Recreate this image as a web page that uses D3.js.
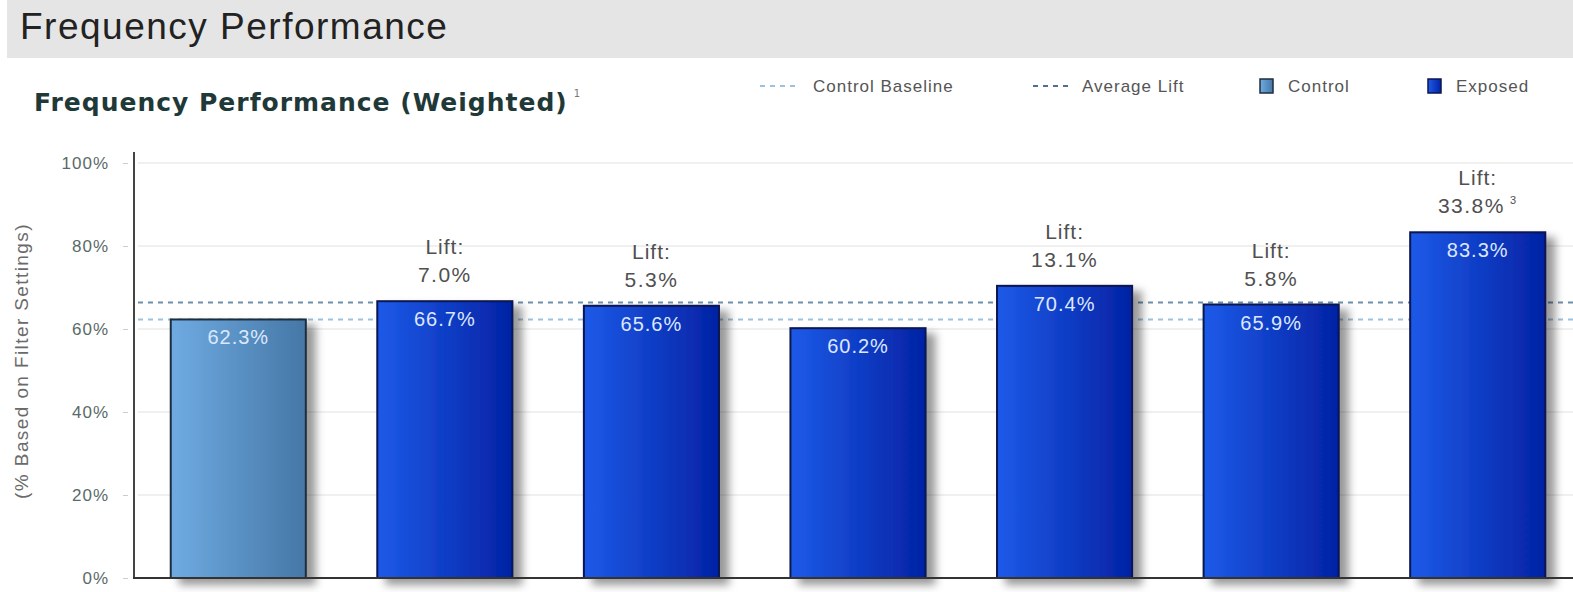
<!DOCTYPE html>
<html lang="en">
<head>
  <meta charset="UTF-8">
  <script src="https://cdn.jsdelivr.net/npm/d3@7"></script>
  <title>Frequency Performance</title>
  <style>
    body { margin: 0; background: #fff; }
    svg { display: block; font-family: "Liberation Sans", Arial, sans-serif; }
  </style>
</head>
<body>
  <svg width="1573" height="592" id="chart"></svg>
  <script>
    // data
    let groups = ["Control", "Exposed 1", "Exposed 2", "Exposed 3", "Exposed 4", "Exposed 5", "Exposed 6"];
    let kinds = ["Control", "Exposed", "Exposed", "Exposed", "Exposed", "Exposed", "Exposed"];
    let values = [62.3, 66.7, 65.6, 60.2, 70.4, 65.9, 83.3];
    let lifts = ["", "7.0%", "5.3%", "", "13.1%", "5.8%", "33.8%"];
    let liftNotes = ["", "", "", "", "", "", "3"];
    let yTicks = [0, 20, 40, 60, 80, 100];
    let controlBaseline = 62.3;
    let averageLift = 66.4;

    let svg = d3.select("#chart");
    let defs = svg.append("defs");

    // gradients for the bars
    let gradControl = defs.append("linearGradient").attr("id", "gControl");
    gradControl.append("stop").attr("offset", "0%").attr("stop-color", "#6fabe2");
    gradControl.append("stop").attr("offset", "100%").attr("stop-color", "#4577a6");
    let gradExposed = defs.append("linearGradient").attr("id", "gExposed");
    gradExposed.append("stop").attr("offset", "0%").attr("stop-color", "#1d5ae8");
    gradExposed.append("stop").attr("offset", "100%").attr("stop-color", "#0322a4");

    let shadow = defs.append("filter").attr("id", "shadow")
      .attr("x", "-10%").attr("y", "-10%").attr("width", "140%").attr("height", "130%");
    shadow.append("feDropShadow")
      .attr("dx", 9).attr("dy", 6).attr("stdDeviation", 4)
      .attr("flood-color", "#000").attr("flood-opacity", 0.4);

    // header band
    svg.append("rect").attr("x", 7).attr("y", 0).attr("width", 1566).attr("height", 58).attr("fill", "#e5e5e5");
    svg.append("text").text("Frequency Performance")
      .attr("x", 20).attr("y", 39)
      .style("font-size", "37px").style("letter-spacing", "1.5px").attr("fill", "#222");

    // sub title
    let sub = svg.append("text").attr("x", 34).attr("y", 111)
      .style("font-family", "'DejaVu Sans', sans-serif")
      .style("font-size", "25px").style("font-weight", "bold").style("letter-spacing", "1px")
      .attr("fill", "#1f3838");
    sub.append("tspan").text("Frequency Performance (Weighted)");
    sub.append("tspan").text("1").attr("dx", 6).attr("dy", -14)
      .style("font-size", "10px").style("font-weight", "normal").attr("fill", "#777");

    /* SCALES */
    let x = d3.scaleBand()
      .domain(groups)
      .range([135, 1581])
      .paddingInner(0.346)
      .paddingOuter(0.173);

    let y = d3.scaleLinear()
      .domain([0, 100])
      .range([578, 163]);

    // grid lines
    svg.append("g").selectAll("line")
      .data(yTicks.filter(t => t > 0))
      .enter().append("line")
      .attr("x1", 138).attr("x2", 1573)
      .attr("y1", d => y(d)).attr("y2", d => y(d))
      .attr("stroke", "#ebebeb").attr("stroke-width", 1.5);

    // y axis ticks and labels
    let yAxis = svg.append("g")
      .attr("transform", "translate(128,0)")
      .call(d3.axisLeft(y).tickValues(yTicks).tickSize(5).tickPadding(14).tickFormat(d => d + "%"));
    yAxis.select(".domain").remove();
    yAxis.selectAll(".tick line").attr("stroke", "#ccc");
    yAxis.selectAll(".tick text")
      .style("font-size", "17px").style("letter-spacing", "1px")
      .style("font-family", "'Liberation Sans', Arial, sans-serif")
      .attr("fill", "#5a6a68");

    svg.append("text").text("(% Based on Filter Settings)")
      .attr("transform", "translate(28,361) rotate(-90)")
      .attr("text-anchor", "middle")
      .style("font-size", "19px").style("letter-spacing", "1.4px").attr("fill", "#6a6a6a");

    // reference lines (behind bars)
    svg.append("line")
      .attr("x1", 138).attr("x2", 1573)
      .attr("y1", y(controlBaseline)).attr("y2", y(controlBaseline))
      .attr("stroke", "#9cc2df").attr("stroke-width", 2).attr("stroke-dasharray", "5,5");
    svg.append("line")
      .attr("x1", 138).attr("x2", 1573)
      .attr("y1", y(averageLift)).attr("y2", y(averageLift))
      .attr("stroke", "#6e8fac").attr("stroke-width", 2).attr("stroke-dasharray", "5,5");

    /* PLOT DATA */
    let bars = svg.append("g").selectAll("g")
      .data(values)
      .enter().append("g");

    bars.append("rect")
      .attr("x", (d, i) => x(groups[i]))
      .attr("y", d => y(d))
      .attr("width", x.bandwidth())
      .attr("height", d => y(0) - y(d))
      .attr("fill", (d, i) => kinds[i] == "Control" ? "url(#gControl)" : "url(#gExposed)")
      .attr("stroke", (d, i) => kinds[i] == "Control" ? "#1e2e3e" : "#0a1650")
      .attr("stroke-width", 2)
      .attr("filter", "url(#shadow)");

    bars.append("text")
      .text(d => d.toFixed(1) + "%")
      .attr("x", (d, i) => x(groups[i]) + x.bandwidth() / 2)
      .attr("y", d => y(d) + 25)
      .attr("text-anchor", "middle")
      .style("font-size", "20px").style("letter-spacing", "1px").attr("fill", "#dce8ff");

    // lift labels
    bars.each(function(d, i) {
      if (lifts[i] == "") return;
      let g = d3.select(this);
      let cx = x(groups[i]) + x.bandwidth() / 2;
      g.append("text").text("Lift:")
        .attr("x", cx).attr("y", y(d) - 47)
        .attr("text-anchor", "middle")
        .style("font-size", "21px").style("letter-spacing", "1px").attr("fill", "#505050");
      let t = g.append("text")
        .attr("x", cx).attr("y", y(d) - 19)
        .attr("text-anchor", "middle")
        .style("font-size", "21px").style("letter-spacing", "1.5px").attr("fill", "#505050");
      t.append("tspan").text(lifts[i]);
      if (liftNotes[i] != "") {
        t.append("tspan").text(liftNotes[i]).attr("dx", 5).attr("dy", -9)
          .style("font-size", "11px");
      }
    });

    // axis lines
    svg.append("line").attr("x1", 134).attr("x2", 134).attr("y1", 152).attr("y2", 579)
      .attr("stroke", "#444").attr("stroke-width", 2);
    svg.append("line").attr("x1", 133).attr("x2", 1573).attr("y1", y(0)).attr("y2", y(0))
      .attr("stroke", "#333").attr("stroke-width", 2);

    // legend
    let legend = svg.append("g").style("font-size", "17px").style("letter-spacing", "1px");
    legend.append("line").attr("x1", 760).attr("x2", 800).attr("y1", 86).attr("y2", 86)
      .attr("stroke", "#9cc2df").attr("stroke-width", 2).attr("stroke-dasharray", "5,5");
    legend.append("text").text("Control Baseline").attr("x", 813).attr("y", 92).attr("fill", "#555");
    legend.append("line").attr("x1", 1033).attr("x2", 1070).attr("y1", 86).attr("y2", 86)
      .attr("stroke", "#4f6f8e").attr("stroke-width", 2).attr("stroke-dasharray", "5,5");
    legend.append("text").text("Average Lift").attr("x", 1082).attr("y", 92).attr("fill", "#555");
    legend.append("rect").attr("x", 1260).attr("y", 79).attr("width", 13).attr("height", 14)
      .attr("fill", "url(#gControl)").attr("stroke", "#1e2e3e").attr("stroke-width", 1.5);
    legend.append("text").text("Control").attr("x", 1288).attr("y", 92).attr("fill", "#555");
    legend.append("rect").attr("x", 1428).attr("y", 79).attr("width", 13).attr("height", 14)
      .attr("fill", "url(#gExposed)").attr("stroke", "#0a1650").attr("stroke-width", 1.5);
    legend.append("text").text("Exposed").attr("x", 1456).attr("y", 92).attr("fill", "#555");
  </script>
</body>
</html>
